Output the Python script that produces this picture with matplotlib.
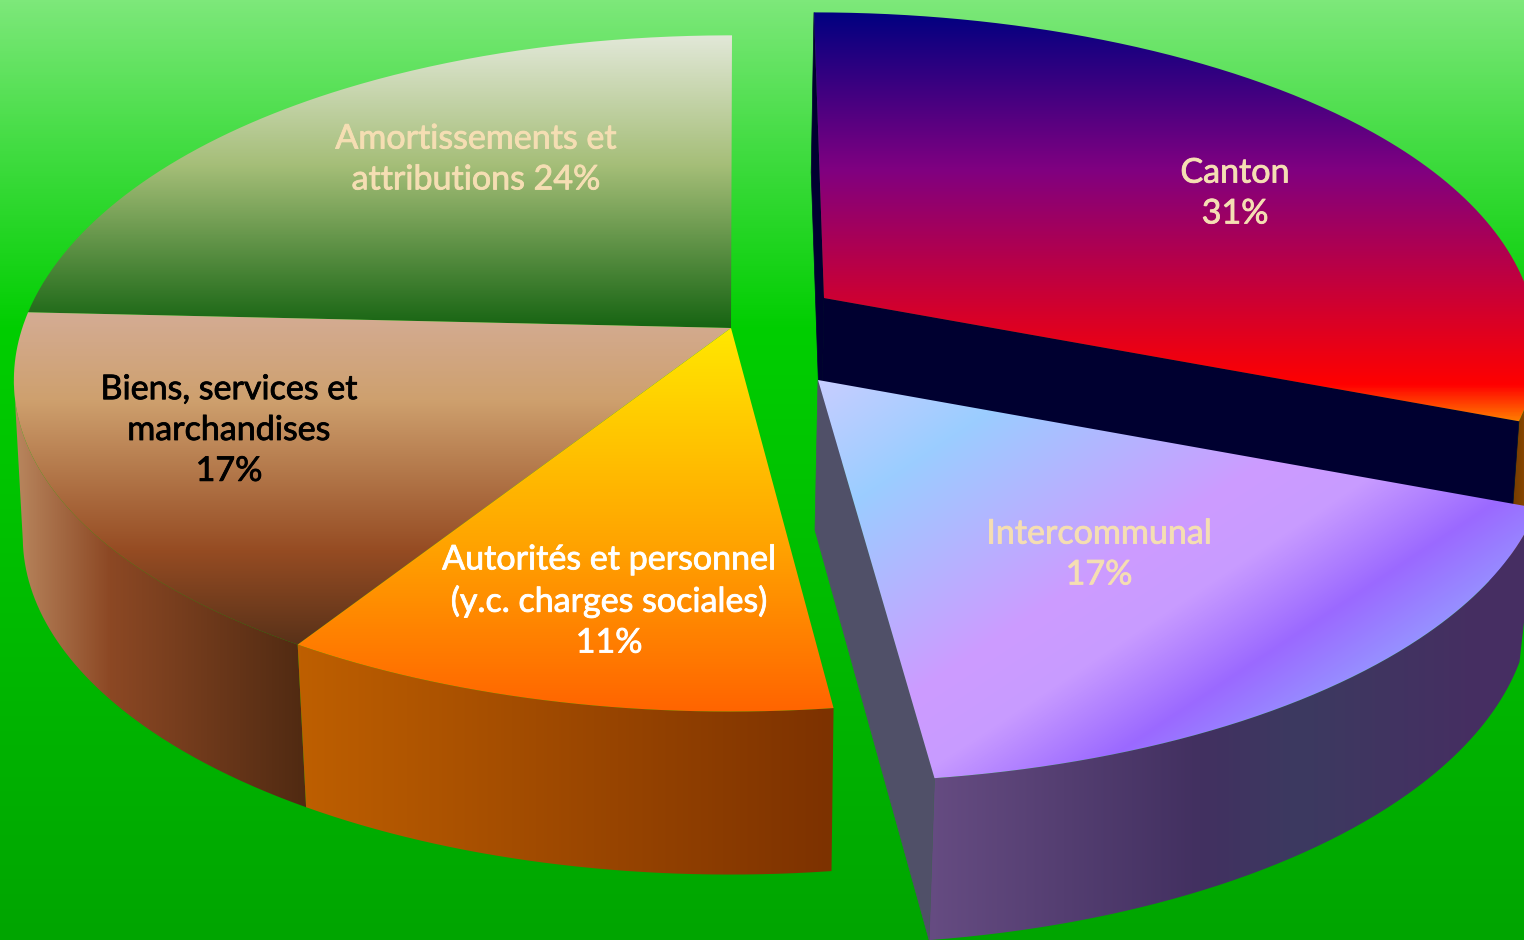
import numpy as np
import matplotlib
matplotlib.use('Agg')
import matplotlib.pyplot as plt
import matplotlib.patheffects as pe
from matplotlib.path import Path
from matplotlib.patches import PathPatch, Polygon
from matplotlib.colors import LinearSegmentedColormap

W, H = 1524, 940

# data, clockwise from 12 o'clock
names = ['Canton', 'Intercommunal', 'Autorités et personnel\n(y.c. charges sociales)',
         'Biens, services et\nmarchandises', 'Amortissements et\nattributions']
shares = [31, 17, 11, 17, 24]
seps = ['\n', '\n', '\n', '\n', ' ']
text_colors = ['#F5DEB3', '#F5DEB3', '#FFFFFF', '#000000', '#F5DEB3']
label_xy = [(1235, 193), (1099, 554), (609, 601), (229, 430), (476, 159)]

edges = 2 * np.pi * np.concatenate([[0], np.cumsum(shares)]) / sum(shares)

# projection of each slice
left = dict(ax=731, ay=328, R=716, S=332, k=0.1344, shear=1, depth=163, grow=0, dx=0, squash=0.008, lift=5)
canton = dict(ax=824, ay=298, R=712, S=324, k=0.1344, shear=-10, depth=160, grow=0, dx=-3, squash=0.01, lift=-3)
inter = dict(ax=818, ay=380, R=715, S=322.5, k=0.198, shear=-5, depth=150, grow=0.03, dx=-3, squash=0, lift=0)


def project(theta, g, floor=False):
    u, v = np.sin(theta), np.cos(theta)
    w = 1 + g['k'] * v
    x = g['R'] * u / w + g['shear'] * v
    y = -g['S'] * v / w
    if floor:
        return g['ax'] + g['dx'] + 0.98 * x, g['ay'] + y + g['depth'] + g['grow'] * y
    return g['ax'] + x * (1 - g['squash'] * u ** 4), g['ay'] + y + g['lift'] * u ** 4


def apex(g, floor=False):
    if floor:
        return g['ax'] + g['dx'], g['ay'] + g['depth']
    return g['ax'], g['ay']


def top_poly(a, b, g):
    t = np.linspace(a, b, 200)
    x, y = project(t, g)
    ax0, ay0 = apex(g)
    return np.column_stack([np.r_[ax0, x], np.r_[ay0, y]])


def wall_poly(a, b, g):
    t = np.linspace(a, b, 200)
    x, y = project(t, g)
    x2, y2 = project(t[::-1], g, floor=True)
    return np.column_stack([np.r_[x, x2], np.r_[y, y2]])


def side_poly(th, g):
    p0 = apex(g)
    p1 = project(th, g)
    p2 = project(th, g, floor=True)
    p3 = apex(g, floor=True)
    return np.array([p0, p1, p2, p3])


yy, xx = np.mgrid[0:H, 0:W]


def fill_grad(ax, poly, stops, dirx=0.0, diry=1.0, zorder=2):
    # stops: list of (position along direction, rgb 0-255)
    pos = np.array([s[0] for s in stops], float)
    cols = np.array([s[1] for s in stops], float) / 255
    t = np.clip((dirx * (xx + .5) + diry * (yy + .5) - pos[0]) / (pos[-1] - pos[0]), 0, 1)
    cmap = LinearSegmentedColormap.from_list(
        'g', list(zip((pos - pos[0]) / (pos[-1] - pos[0]), cols)), N=512)
    im = ax.imshow(cmap(t), extent=(0, W, H, 0), interpolation='nearest', aspect='auto', zorder=zorder)
    patch = PathPatch(Path(poly, closed=False), transform=ax.transData, fc='none', ec='none')
    ax.add_patch(patch)
    im.set_clip_path(patch)


def fill_flat(ax, poly, color, zorder=2):
    ax.add_patch(Polygon(poly, closed=True, fc=color, ec=color, lw=0.5, zorder=zorder))


fig = plt.figure(figsize=(W / 100, H / 100), dpi=100)
ax = fig.add_axes([0, 0, 1, 1])
ax.set_axis_off()

# background
fill_grad(ax, np.array([(0, 0), (W, 0), (W, H), (0, H)]),
          [(0, (125, 232, 122)), (150, (65, 220, 65)), (330, (0, 206, 0)), (940, (0, 165, 0))], zorder=1)

# left part
fill_grad(ax, wall_poly(edges[3], np.radians(262), left),
          [(14, (185, 135, 95)), (110, (140, 72, 36)), (305, (80, 42, 18))], 1, 0)
fill_grad(ax, wall_poly(edges[2], edges[3], left),
          [(300, (190, 95, 0)), (830, (125, 50, 0))], 1, 0)
fill_grad(ax, top_poly(edges[4], edges[5], left),
          [(35, (226, 232, 216)), (165, (165, 190, 120)), (328, (22, 100, 18))])
fill_grad(ax, top_poly(edges[3], edges[4], left),
          [(312, (212, 172, 148)), (400, (206, 160, 110)), (550, (150, 76, 35)), (643, (90, 50, 25))])
fill_grad(ax, top_poly(edges[2], edges[3], left),
          [(328, (255, 232, 0)), (540, (255, 165, 0)), (712, (255, 100, 0))])

# canton
fill_flat(ax, side_poly(edges[0], canton), '#000030')
fill_grad(ax, wall_poly(np.radians(95), edges[1], canton),
          [(1505, (100, 50, 0)), (1524, (135, 70, 0))], 1, 0)
fill_flat(ax, side_poly(edges[1], canton), '#000030')
fill_grad(ax, top_poly(edges[0], edges[1], canton),
          [(12, (0, 0, 128)), (170, (128, 0, 128)), (385, (255, 0, 0)), (422, (255, 128, 0))])

# intercommunal
fill_grad(ax, wall_poly(edges[1], edges[2], inter),
          [(928, (102, 76, 130)), (1200, (66, 48, 96)), (1300, (60, 58, 96)),
           (1480, (70, 46, 98)), (1524, (70, 46, 98))], 1, 0)
fill_flat(ax, side_poly(edges[2], inter), '#505068')
fill_grad(ax, top_poly(edges[1], edges[2], inter),
          [(765, (200, 205, 255)), (885, (155, 205, 255)), (1080, (205, 155, 255)), (1150, (200, 155, 255)),
           (1240, (155, 105, 255)), (1320, (150, 150, 255))], 0.55, 0.83)

for name, share, sep, col, (tx, ty) in zip(names, shares, seps, text_colors, label_xy):
    t = ax.text(tx, ty, f'{name}{sep}{share}%', color=col, ha='center', va='center',
                fontsize=24.5, family='Lato', linespacing=1.34, zorder=5)
    t.set_path_effects([pe.withStroke(linewidth=0.6, foreground=col)])

ax.set_xlim(0, W)
ax.set_ylim(H, 0)
fig.savefig('out.png', dpi=100)
